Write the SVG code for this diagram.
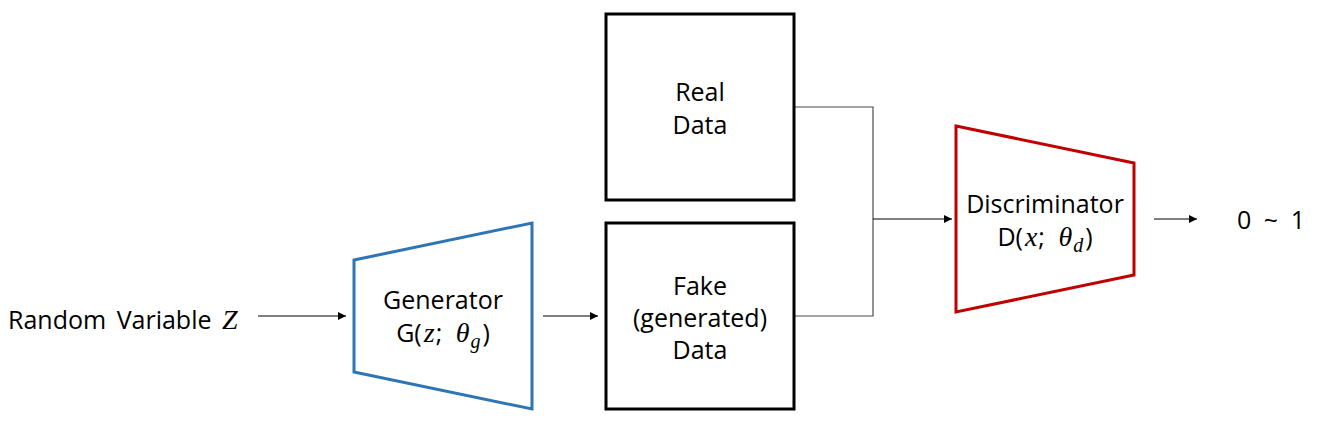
<svg xmlns="http://www.w3.org/2000/svg" width="1321" height="441" viewBox="0 0 1321 441">
<defs>
<style>
.t{font-family:"Open Sans","Noto Sans",sans-serif;font-size:25px;fill:#000;text-anchor:middle}
.m{font-family:"Liberation Serif",serif;font-style:italic;font-size:28px}
.s{font-family:"Liberation Serif",serif;font-style:italic;font-size:20px}
.f{word-spacing:7px}
.box{fill:#fff;stroke:#000;stroke-width:3}
.c{fill:none;stroke:#000;stroke-width:1.2}
.g{fill:none;stroke:#4d4d4d;stroke-width:1.2}
</style>
<marker id="ah" viewBox="0 0 10 10" refX="10" refY="5" markerWidth="8" markerHeight="8" markerUnits="userSpaceOnUse" orient="auto"><path d="M0,0 L10,5 L0,10 z" fill="#000"/></marker>
</defs>
<rect width="1321" height="441" fill="#fff"/>
<g id="connectors">
<line class="c" x1="258" y1="316" x2="346" y2="316" marker-end="url(#ah)"/>
<line class="c" x1="543" y1="316" x2="598" y2="316" marker-end="url(#ah)"/>
<polyline class="g" points="794,107 873,107 873,316 794,316"/>
<line class="c" x1="873" y1="219" x2="952" y2="219" marker-end="url(#ah)"/>
<line class="c" x1="1154" y1="219" x2="1197" y2="219" marker-end="url(#ah)"/>
</g>
<g id="input">
<text class="t" x="8" y="329" style="text-anchor:start;word-spacing:4px">Random Variable <tspan class="m">Z</tspan></text>
</g>
<g id="generator">
<polygon points="354,260 532,223 532,409 354,372" fill="#fff" stroke="#2E75B6" stroke-width="3"/>
<text class="t" x="443" y="309">Generator</text>
<text class="t f" x="443" y="342">G(<tspan class="m" dx="2">z</tspan><tspan dx="1">;</tspan> <tspan class="m">θ</tspan><tspan class="s" dy="6" dx="1">g</tspan><tspan dy="-6" dx="2">)</tspan></text>
</g>
<g id="real">
<rect class="box" x="606" y="14" width="188" height="186"/>
<text class="t" x="700" y="101">Real</text>
<text class="t" x="700" y="134">Data</text>
</g>
<g id="fake">
<rect class="box" x="606" y="223" width="188" height="186"/>
<text class="t" x="700" y="295">Fake</text>
<text class="t" x="700" y="327">(generated)</text>
<text class="t" x="700" y="359">Data</text>
</g>
<g id="discriminator">
<polygon points="956,126 1134,163 1134,275 956,312" fill="#fff" stroke="#C00000" stroke-width="3"/>
<text class="t" x="1045" y="213">Discriminator</text>
<text class="t f" x="1045" y="246">D(<tspan class="m" dx="2">x</tspan><tspan dx="1">;</tspan> <tspan class="m">θ</tspan><tspan class="s" dy="6" dx="1">d</tspan><tspan dy="-6" dx="2">)</tspan></text>
</g>
<g id="output">
<text class="t" x="1271" y="229" style="word-spacing:6px">0 ~ 1</text>
</g>
</svg>
